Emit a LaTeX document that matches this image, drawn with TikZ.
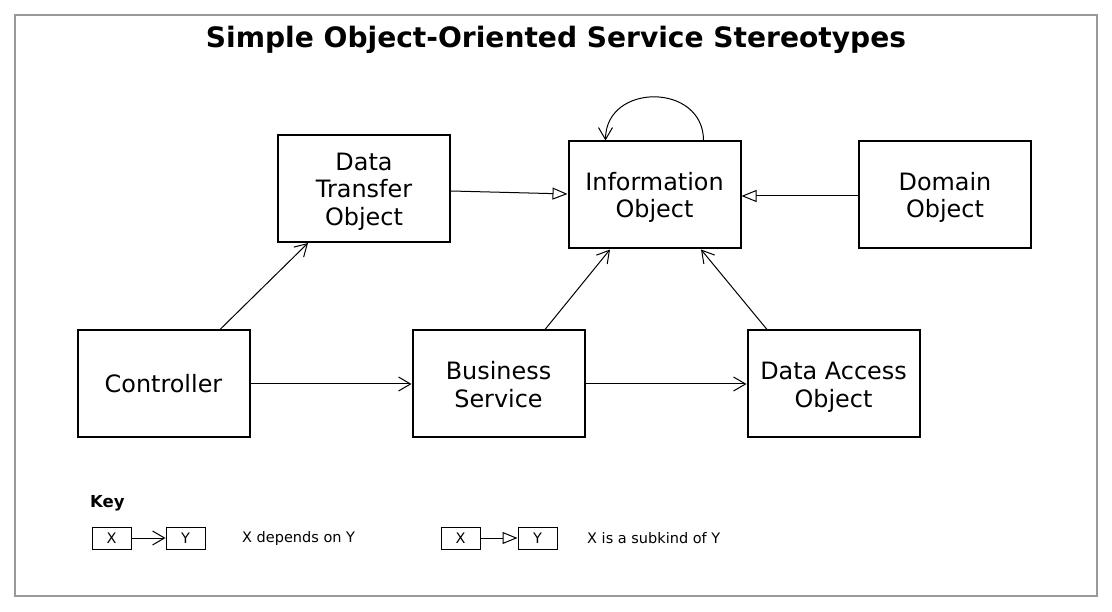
\documentclass[tikz,border=0pt]{standalone}
\usepackage{fontspec}
\setmainfont{DejaVu Sans}
\usetikzlibrary{arrows.meta,calc}
\tikzset{
  box/.style={draw,line width=2pt,minimum width=172pt,minimum height=107pt,inner sep=0pt},
  btext/.style={align=center,inner sep=0pt,font=\fontsize{23.9}{27.6}\selectfont},
  kbox/.style={draw,line width=1pt,minimum width=39pt,minimum height=22pt,inner sep=0pt,font=\fontsize{14.5}{17}\selectfont},
  dep/.style={line width=1pt,-{Straight Barb[length=12pt,width=14pt,line width=1pt]}},
  sub/.style={line width=1pt,-{Triangle[open,length=15pt,width=12pt,line width=1pt,fill=white]}},
  ktext/.style={anchor=west,inner sep=0pt,font=\fontsize{14.5}{17}\selectfont}
}
\begin{document}
\begin{tikzpicture}[x=1pt,y=-1pt]
\useasboundingbox (0,0) rectangle (1112,612);
\draw[gray!80,line width=1.3pt] (15,15) rectangle (1097,596);
\node[font=\bfseries\fontsize{28.1}{33}\selectfont] (title) at (556,39.5) {Simple Object-Oriented Service Stereotypes};
\node[box] (dto) at (364,188.5) {};
\node[box] (info) at (654.5,195) {};
\node[box] (dom) at (945,195) {};
\node[box] (ctrl) at (163.5,384) {};
\node[box] (bs) at (498.5,384) {};
\node[box] (dao) at (833.5,384) {};
\node[btext] (dtot) at ($(dto)+(0,3)$) {Data\\Transfer\\Object};
\node[btext] (infot) at ($(info)+(0,2.5)$) {Information\\Object};
\node[btext] (domt) at ($(dom)+(0,2.5)$) {Domain\\Object};
\node[btext] (ctrlt) at (ctrl) {Controller};
\node[btext] (bst) at ($(bs)+(0,0.5)$) {Business\\Service};
\node[btext] (daot) at ($(dao)+(0,3.5)$) {Data Access\\Object};
\draw[dep] ($(ctrl.north)+(56.5,0)$) -- ($(dto.south)+(-56,0)$);
\draw[dep] (ctrl.east) -- (bs.west);
\draw[dep] (bs.east) -- (dao.west);
\draw[dep] ($(bs.north)+(46.5,0)$) -- ($(info.south)+(-44.5,0)$);
\draw[dep] ($(dao.north)+(-66.5,0)$) -- ($(info.south)+(46.5,0)$);
\draw[sub] ($(dto.east)+(0,2.5)$) -- ($(info.west)+(0,-1)$);
\draw[sub] ($(dom.west)+(0,1)$) -- ($(info.east)+(0,1)$);
\coordinate (ls) at ($(info.north west)+(136,0)$);
\coordinate (le) at ($(info.north west)+(38,0)$);
\draw[dep] (ls) .. controls ($(ls)+(0,-58)$) and ($(le)+(0,-58)$) .. (le);
% key
\node[anchor=west,inner sep=0pt,font=\bfseries\fontsize{16.5}{20}\selectfont] (key) at (90,503.5) {Key};
\node[kbox] (kx1) at (111.5,538) {X};
\node[kbox] (ky1) at (185.5,538) {Y};
\draw[dep] (kx1.east) -- (ky1.west);
\node[ktext] (kt1) at (242,538.5) {X depends on Y};
\node[kbox] (kx2) at (460.5,538) {X};
\node[kbox] (ky2) at (537.5,538) {Y};
\draw[sub] (kx2.east) -- (ky2.west);
\node[ktext] (kt2) at (587,538.5) {X is a subkind of Y};
\end{tikzpicture}
\end{document}
